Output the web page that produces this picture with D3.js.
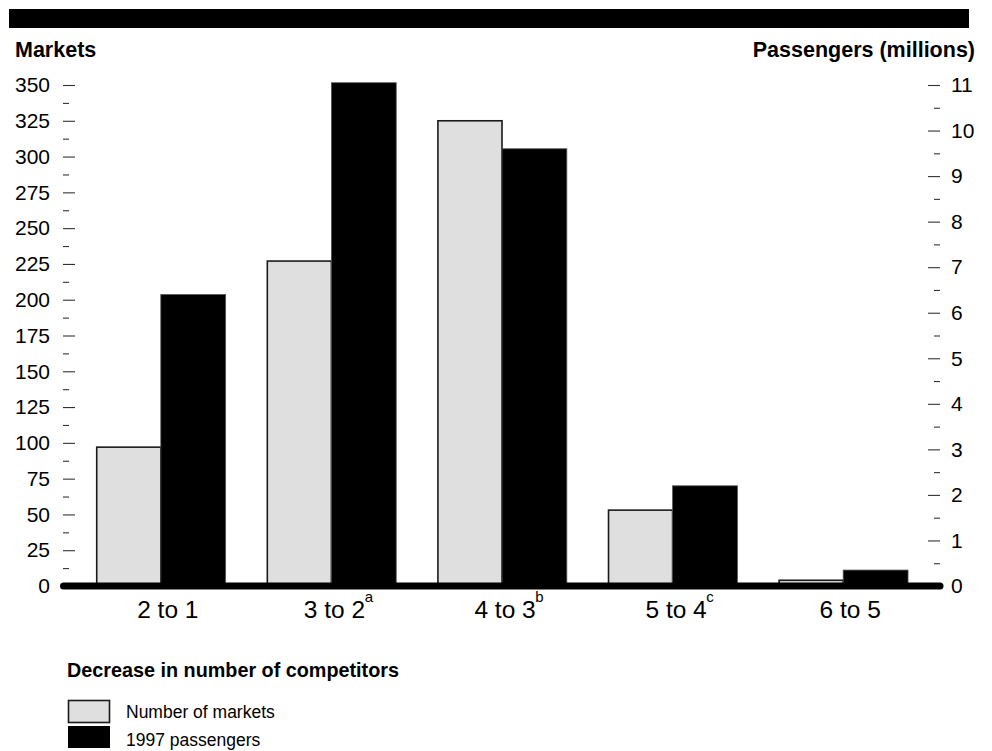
<!DOCTYPE html>
<html>
<head>
<meta charset="utf-8">
<script src="https://cdn.jsdelivr.net/npm/d3@7"></script>
<style>
  html, body { margin: 0; padding: 0; background: #fff; }
  svg { display: block; font-family: "Liberation Sans", Arial, sans-serif; }
</style>
</head>
<body>
<svg id="chart" width="992" height="751"></svg>
<script>
// ---- data ----
const categories = ["2 to 1", "3 to 2", "4 to 3", "5 to 4", "6 to 5"];
const superscripts = ["", "a", "b", "c", ""];
const markets = [97, 227, 325, 53, 4];            // Number of markets (left axis)
const passengers = [6.4, 11.05, 9.6, 2.2, 0.35];  // 1997 passengers, millions (right axis)
const leftTicks = [0, 25, 50, 75, 100, 125, 150, 175, 200, 225, 250, 275, 300, 325, 350];
const rightTicks = [0, 1, 2, 3, 4, 5, 6, 7, 8, 9, 10, 11];
const legendLabels = ["Number of markets", "1997 passengers"];

// ---- layout ----
const svg = d3.select("#chart");
const GRAY = "#dfdfdf";
const y0 = 586, yTop = 85;

const x = d3.scaleBand().domain(categories).range([75.5, 928.5]).paddingInner(0.24).paddingOuter(0.12);
const yL = d3.scaleLinear().domain([0, 350]).range([y0, yTop]);
const yR = d3.scaleLinear().domain([0, 11]).range([y0, yTop]);

// top black band
svg.append("rect").attr("x", 9).attr("y", 9).attr("width", 960).attr("height", 19).attr("fill", "#000");

// axis titles
svg.append("text").attr("x", 15).attr("y", 57).attr("font-size", 21.5).attr("font-weight", "bold").text("Markets");
svg.append("text").attr("x", 975).attr("y", 57).attr("text-anchor", "end").attr("font-size", 21.5).attr("font-weight", "bold").text("Passengers (millions)");

// left axis
const leftMinor = d3.range(12.5, 350, 25);
const la = svg.append("g").attr("transform", "translate(75,0)")
  .call(d3.axisLeft(yL).tickValues(leftTicks).tickSize(12).tickPadding(13).tickFormat(d3.format("d")));
la.select(".domain").remove();
la.selectAll("text").attr("font-size", 21).attr("fill", "#000").attr("font-family", "Liberation Sans, Arial, sans-serif");
la.selectAll("line").attr("stroke", "#333").attr("stroke-width", 1.1);
const lm = svg.append("g").attr("transform", "translate(69,0)")
  .call(d3.axisLeft(yL).tickValues(leftMinor).tickSize(6).tickFormat(""));
lm.select(".domain").remove();
lm.selectAll("line").attr("stroke", "#333").attr("stroke-width", 1.1);

// right axis
const rightMinor = d3.range(0.5, 11, 1);
const ra = svg.append("g").attr("transform", "translate(928,0)")
  .call(d3.axisRight(yR).tickValues(rightTicks).tickSize(12).tickPadding(11).tickFormat(d3.format("d")));
ra.select(".domain").remove();
ra.selectAll("text").attr("font-size", 21).attr("fill", "#000").attr("font-family", "Liberation Sans, Arial, sans-serif");
ra.selectAll("line").attr("stroke", "#333").attr("stroke-width", 1.1);
const rm = svg.append("g").attr("transform", "translate(934,0)")
  .call(d3.axisRight(yR).tickValues(rightMinor).tickSize(6).tickFormat(""));
rm.select(".domain").remove();
rm.selectAll("line").attr("stroke", "#333").attr("stroke-width", 1.1);

// bars
const half = x.bandwidth() / 2;
svg.append("g").selectAll("rect").data(categories).join("rect")
  .attr("x", d => x(d) + 0.75)
  .attr("y", (d, i) => yL(markets[i]))
  .attr("width", half - 0.75)
  .attr("height", (d, i) => y0 - yL(markets[i]))
  .attr("fill", GRAY).attr("stroke", "#1a1a1a").attr("stroke-width", 1.6);
svg.append("g").selectAll("rect").data(categories).join("rect")
  .attr("x", d => x(d) + half)
  .attr("y", (d, i) => yR(passengers[i]))
  .attr("width", half)
  .attr("height", (d, i) => y0 - yR(passengers[i]))
  .attr("fill", "#000").attr("stroke", "#555").attr("stroke-width", 0.8);

// baseline
svg.append("line").attr("x1", 63.5).attr("x2", 940).attr("y1", y0).attr("y2", y0)
  .attr("stroke", "#000").attr("stroke-width", 7).attr("stroke-linecap", "round");

// category labels
const xa = svg.append("g").attr("transform", `translate(0,${y0})`)
  .call(d3.axisBottom(x).tickSize(0).tickPadding(0).tickFormat(""));
xa.select(".domain").remove();
xa.selectAll(".tick").each(function(d, i) {
  const t = d3.select(this).append("text")
    .attr("y", 32).attr("x", 7).attr("text-anchor", "middle")
    .attr("font-size", 24.5).attr("fill", "#000")
    .attr("font-family", "Liberation Sans, Arial, sans-serif");
  t.append("tspan").text(d);
  if (superscripts[i]) {
    t.append("tspan").attr("font-size", 15).attr("dy", -16).attr("dx", -0.5).text(superscripts[i]);
  }
});

// x-axis title
svg.append("text").attr("x", 67).attr("y", 677).attr("font-size", 19.8).attr("font-weight", "bold")
  .text("Decrease in number of competitors");

// legend
const lg = svg.append("g");
lg.append("rect").attr("x", 68.5).attr("y", 700.5).attr("width", 41).attr("height", 22)
  .attr("fill", GRAY).attr("stroke", "#1a1a1a").attr("stroke-width", 1.6);
lg.append("rect").attr("x", 68).attr("y", 726).attr("width", 42).attr("height", 22).attr("fill", "#000");
lg.selectAll("text").data(legendLabels).join("text")
  .attr("x", 126).attr("y", (d, i) => 718 + i * 28)
  .attr("font-size", 17.5).attr("fill", "#000").text(d => d);
</script>
</body>
</html>
